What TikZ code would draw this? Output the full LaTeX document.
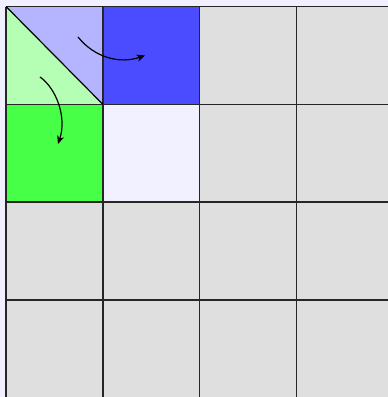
\documentclass[tikz,border=0pt]{standalone}
\usetikzlibrary{arrows.meta}
\definecolor{bgc}{HTML}{F0F0FF}
\definecolor{cellgray}{HTML}{DFDFDF}
\definecolor{lblue}{HTML}{B4B4FF}
\definecolor{lgreen}{HTML}{B4FFB4}
\definecolor{dblue}{HTML}{4B4BFF}
\definecolor{dgreen}{HTML}{48FF48}
\definecolor{pale}{HTML}{F1F1FF}
\tikzset{
  gridline/.style={line width=1.5pt, draw=black!85},
  flow/.style={line width=1.2pt, -{Stealth[length=8pt,width=7pt,inset=2pt]}}
}
\begin{document}
\begin{tikzpicture}[x=1pt,y=-1pt]
\useasboundingbox (0,0) rectangle (388,397);
\clip (0,0) rectangle (388,397);
\fill[bgc] (0,0) rectangle (388,397);
% cells
\def\xa{6}\def\dx{96.8}\def\ya{6.5}\def\dy{97.8}
\foreach \i in {0,...,3}{
  \foreach \j in {0,...,3}{
    \fill[cellgray] ({\xa+\i*\dx},{\ya+\j*\dy}) rectangle ++(\dx,\dy);
  }
}
\fill[lgreen] (\xa,\ya) -- ({\xa+\dx},{\ya+\dy}) -- (\xa,{\ya+\dy}) -- cycle;
\fill[lblue] (\xa,\ya) -- ({\xa+\dx},\ya) -- ({\xa+\dx},{\ya+\dy}) -- cycle;
\fill[dblue] ({\xa+\dx},\ya) rectangle ++(\dx,\dy);
\fill[dgreen] (\xa,{\ya+\dy}) rectangle ++(\dx,\dy);
\fill[pale] ({\xa+\dx},{\ya+\dy}) rectangle ++(\dx,\dy);
% grid lines
\foreach \i in {0,...,4}{
  \draw[gridline] ({\xa+\i*\dx},\ya) -- ({\xa+\i*\dx},400);
  \draw[gridline] (\xa,{\ya+\i*\dy}) -- (400,{\ya+\i*\dy});
}
\draw[line width=1.2pt] (\xa,\ya) -- ({\xa+\dx},{\ya+\dy});
% arrows
\coordinate (s1) at (78,37);
\coordinate (e1) at (145,55.5);
\coordinate (s2) at (40,77);
\coordinate (e2) at (58,144);
\draw[flow] (s1) .. controls (95,58) and (120,64) .. (e1);
\draw[flow] (s2) .. controls (56,88) and (67,117) .. (e2);
\end{tikzpicture}
\end{document}
